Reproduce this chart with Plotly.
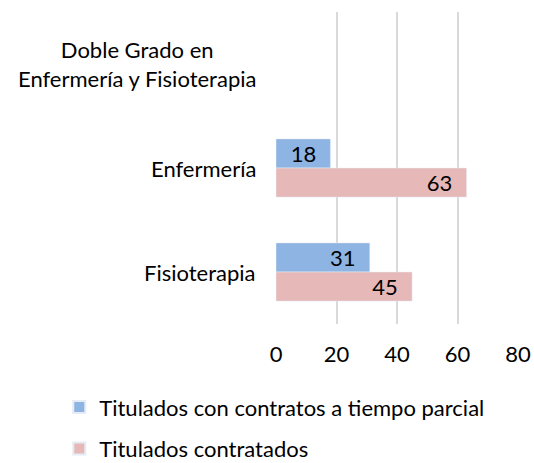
import plotly.graph_objects as go

categories = ["Doble Grado en<br>Enfermería y Fisioterapia", "Enfermería", "Fisioterapia"]
parcial = [None, 18, 31]
contratados = [None, 63, 45]
series_names = ["Titulados con contratos a tiempo parcial", "Titulados contratados"]
x_ticks = [0, 20, 40, 60, 80]

FONT = "Lato, Carlito, Calibri, sans-serif"
FS = 22
PAD = "\u00a0\u00a0"

fig = go.Figure()
fig.add_trace(go.Bar(
    y=categories, x=parcial, orientation="h", name=series_names[0],
    marker=dict(color="#8EB4E3"), texttemplate="%{x}" + PAD, textposition="inside",
    insidetextanchor="end", textangle=0,
    textfont=dict(color="black", size=FS, family=FONT),
    constraintext="none", legendgroup="a", cliponaxis=False,
))
fig.add_trace(go.Bar(
    y=categories, x=contratados, orientation="h", name=series_names[1],
    marker=dict(color="#E6B9B8"), texttemplate="%{x}" + PAD, textposition="inside",
    insidetextanchor="end", textangle=0,
    textfont=dict(color="black", size=FS, family=FONT),
    constraintext="none", legendgroup="b", cliponaxis=False,
))

for c in categories:
    fig.add_annotation(
        x=0, xref="paper", xanchor="right", xshift=-18,
        y=c, yref="y", text=c, showarrow=False, align="center",
        font=dict(size=FS, family=FONT, color="black"),
    )

fig.update_layout(
    width=534, height=463,
    margin=dict(l=276, r=16, t=12, b=139, autoexpand=False),
    paper_bgcolor="white", plot_bgcolor="white",
    barmode="group", bargap=0.44, bargroupgap=0,
    font=dict(family=FONT, size=FS, color="black"),
    showlegend=True,
    legend=dict(
        orientation="v", xref="container", yref="container",
        x=0.111, y=0.166, xanchor="left", yanchor="top",
        traceorder="grouped", tracegroupgap=10,
        font=dict(size=FS, family=FONT, color="black"),
        itemsizing="constant",
    ),
    xaxis=dict(
        range=[0, 80], tickvals=x_ticks, showgrid=True, gridcolor="#D9D9D9",
        gridwidth=1.5, zeroline=False, showline=False,
        ticks="", ticklabelstandoff=15, tickfont=dict(size=FS),
    ),
    yaxis=dict(
        autorange="reversed", showticklabels=False, showgrid=False,
        zeroline=False, showline=False, ticks="",
    ),
)

fig.write_html("out.html", config={"displayModeBar": False},
               post_script="document.body.style.margin='0';")
